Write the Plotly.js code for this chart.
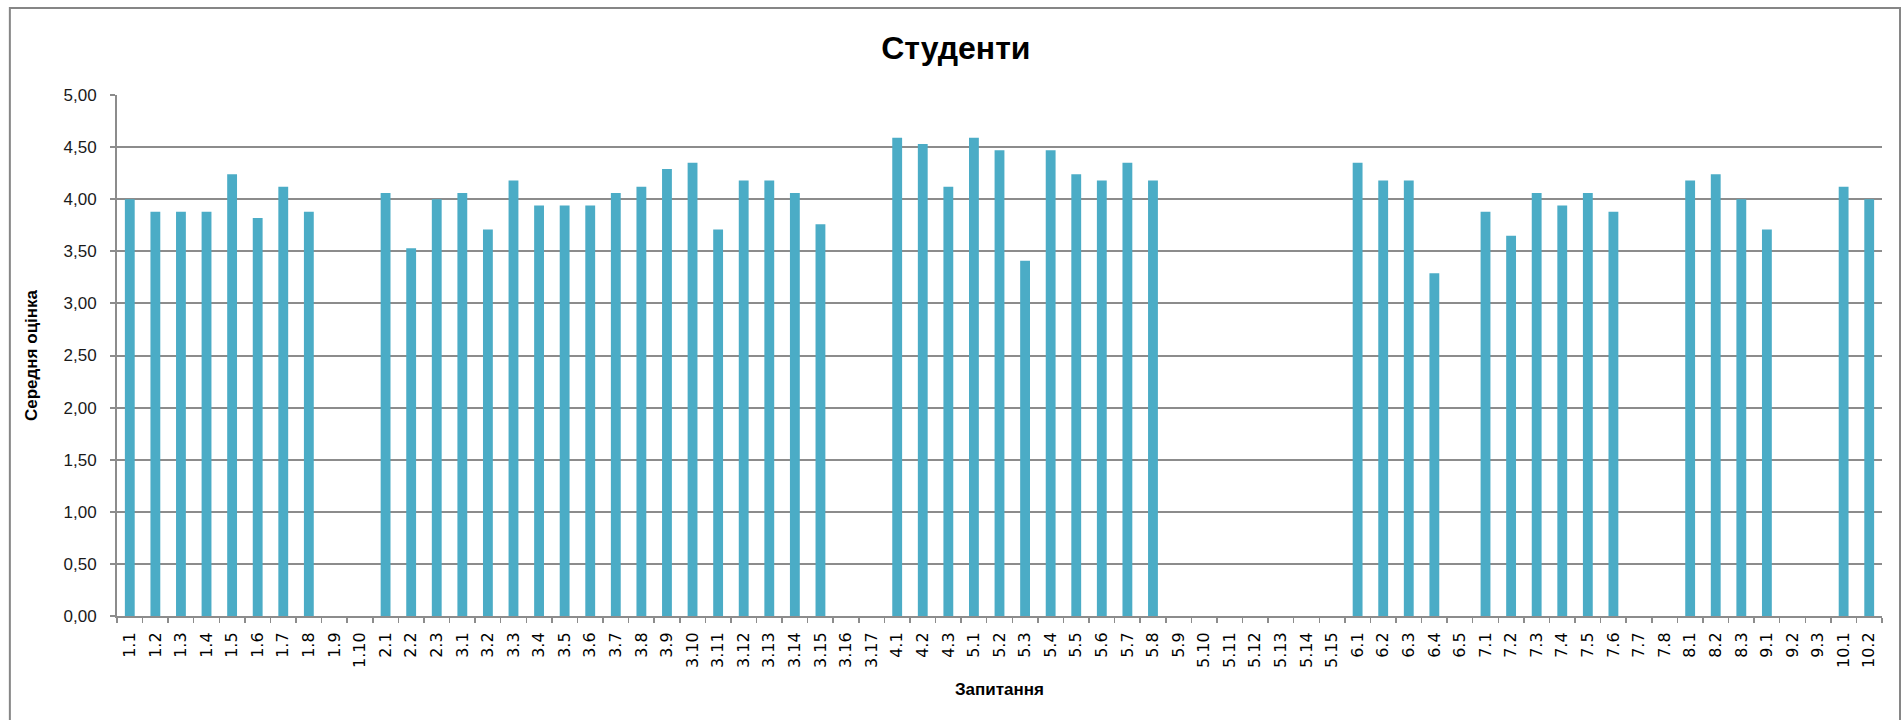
<!DOCTYPE html>
<html>
<head>
<meta charset="utf-8">
<script src="https://cdn.plot.ly/plotly-3.0.1.min.js"></script>
<style>
  html, body { margin: 0; padding: 0; background: #ffffff; }
  #chart { width: 1904px; height: 720px; }
</style>
</head>
<body>
<div id="chart"></div>
<script>
// ---- data ----
const chartTitle = "Студенти";
const xTitle = "Запитання";
const yTitle = "Середня оцінка";

const questions = [
  "1.1","1.2","1.3","1.4","1.5","1.6","1.7","1.8","1.9","1.10",
  "2.1","2.2","2.3",
  "3.1","3.2","3.3","3.4","3.5","3.6","3.7","3.8","3.9","3.10","3.11","3.12","3.13","3.14","3.15","3.16","3.17",
  "4.1","4.2","4.3",
  "5.1","5.2","5.3","5.4","5.5","5.6","5.7","5.8","5.9","5.10","5.11","5.12","5.13","5.14","5.15",
  "6.1","6.2","6.3","6.4","6.5",
  "7.1","7.2","7.3","7.4","7.5","7.6","7.7","7.8",
  "8.1","8.2","8.3",
  "9.1","9.2","9.3",
  "10.1","10.2"
];

const meanScores = [
  4.00, 3.88, 3.88, 3.88, 4.24, 3.82, 4.12, 3.88, null, null,
  4.06, 3.53, 4.00,
  4.06, 3.71, 4.18, 3.94, 3.94, 3.94, 4.06, 4.12, 4.29, 4.35, 3.71, 4.18, 4.18, 4.06, 3.76, null, null,
  4.59, 4.53, 4.12,
  4.59, 4.47, 3.41, 4.47, 4.24, 4.18, 4.35, 4.18, null, null, null, null, null, null, null,
  4.35, 4.18, 4.18, 3.29, null,
  3.88, 3.65, 4.06, 3.94, 4.06, 3.88, null, null,
  4.18, 4.24, 4.00,
  3.71, null, null,
  4.12, 4.00
];

const yTickStep = 0.5;
const yMax = 5;

// ---- chart ----
const gridGray = "#8c8c8c";

const trace = {
  type: "bar",
  x: questions,
  y: meanScores,
  marker: { color: "#4BACC6", line: { width: 0 } },
  hoverinfo: "skip"
};

const layout = {
  width: 1904,
  height: 720,
  paper_bgcolor: "#ffffff",
  plot_bgcolor: "#ffffff",
  separators: ",.",
  margin: { l: 117, r: 22, t: 95, b: 104, pad: 0 },
  bargap: 0.615,
  showlegend: false,
  title: {
    text: "<b>" + chartTitle + "</b>",
    font: { family: "Liberation Sans Narrow, Liberation Sans, Arial, sans-serif", size: 32, color: "#000000" },
    xref: "container", x: 0.502, xanchor: "center",
    yref: "container", y: 0.934, yanchor: "middle"
  },
  xaxis: {
    type: "category",
    tickangle: -90,
    tickfont: { family: "DejaVu Sans, sans-serif", size: 16, color: "#000000" },
    ticks: "outside",
    tickson: "boundaries",
    ticklen: 5,
    tickwidth: 1.5,
    tickcolor: gridGray,
    ticklabelstandoff: 8,
    showline: true,
    linecolor: gridGray,
    linewidth: 2,
    showgrid: false,
    zeroline: false,
    automargin: false,
    title: {
      text: "<b>" + xTitle + "</b>",
      font: { family: "Liberation Sans, Arial, sans-serif", size: 17, color: "#000000" },
      standoff: 16
    }
  },
  yaxis: {
    range: [0, yMax],
    dtick: yTickStep,
    tick0: 0,
    tickformat: ".2f",
    tickfont: { family: "Liberation Sans, Arial, sans-serif", size: 17, color: "#1a1a1a" },
    ticks: "outside",
    ticklen: 5,
    tickwidth: 2,
    tickcolor: gridGray,
    ticklabelstandoff: 10,
    showline: true,
    linecolor: gridGray,
    linewidth: 2,
    showgrid: true,
    gridcolor: gridGray,
    gridwidth: 2,
    zeroline: false,
    automargin: false,
    title: {
      text: "<b>" + yTitle + "</b>",
      font: { family: "Liberation Sans, Arial, sans-serif", size: 17, color: "#000000" },
      standoff: 22
    }
  },
  shapes: [
    {
      type: "rect", xref: "paper", yref: "paper",
      x0: -0.0607, x1: 1.0102, y0: -0.2188, y1: 1.1670,
      line: { color: "#868686", width: 2 },
      fillcolor: "rgba(0,0,0,0)",
      layer: "below"
    }
  ]
};

Plotly.newPlot("chart", [trace], layout, { displayModeBar: false, staticPlot: true });
</script>
</body>
</html>
